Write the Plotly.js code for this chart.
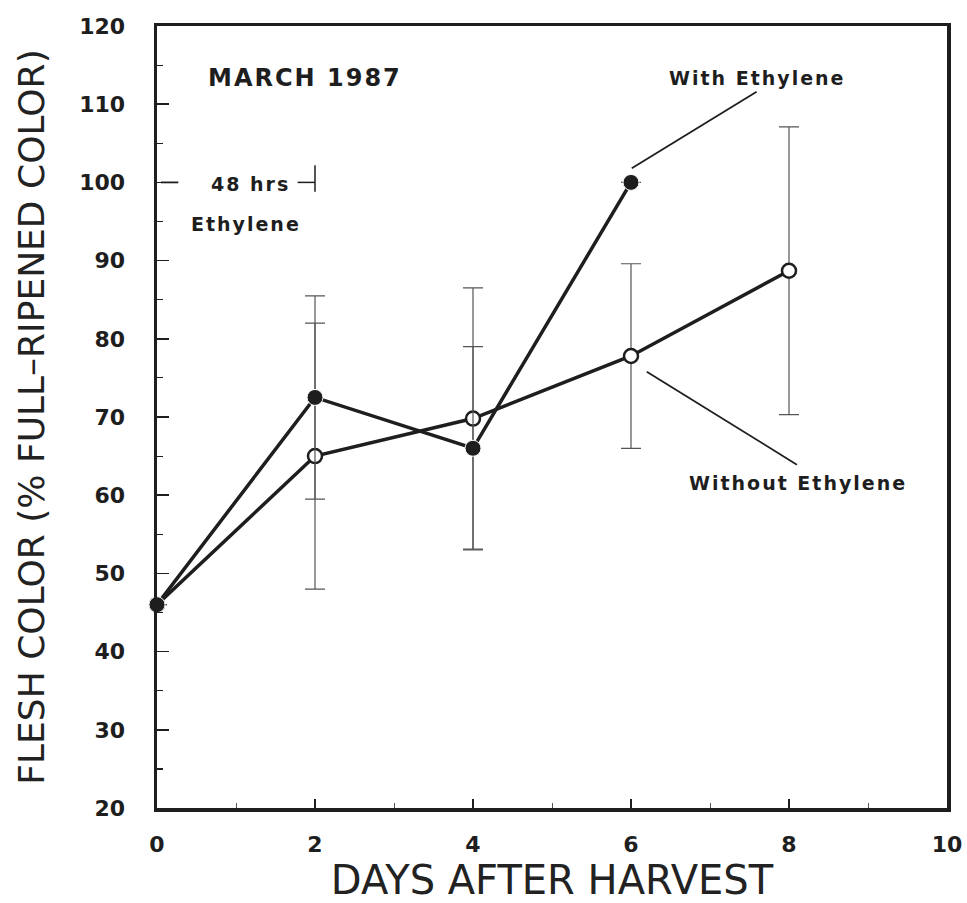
<!DOCTYPE html>
<html>
<head>
<meta charset="utf-8">
<script src="https://cdn.plot.ly/plotly-3.0.1.min.js"></script>
<style>html,body{margin:0;padding:0;background:#fff;}#chart{width:967px;height:903px;}</style>
</head>
<body>
<div id="chart"></div>
<script>
// Days after harvest
const daysWith = [0, 2, 4, 6];
const colorWith = [46, 72.5, 66, 100];
const errWith = [0, 13, 13, 0];

const daysWithout = [0, 2, 4, 6, 8];
const colorWithout = [46, 65, 69.8, 77.8, 88.7];
const errWithout = [0, 17, 16.7, 11.8, 18.4];

const xTickVals = [0, 2, 4, 6, 8, 10];
const yTickVals = [20, 30, 40, 50, 60, 70, 80, 90, 100, 110, 120];

const ink = '#1e1e1e';
const errColor = '#555';

const traces = [
  {
    x: daysWithout, y: colorWithout, type: 'scatter', mode: 'lines+markers',
    name: 'Without Ethylene', cliponaxis: false,
    line: {color: ink, width: 3.5},
    marker: {symbol: 'circle', size: 14, color: '#fff', line: {color: ink, width: 2.5}},
    error_y: {type: 'data', array: errWithout, visible: true, color: errColor, thickness: 1.2, width: 10}
  },
  {
    x: daysWith, y: colorWith, type: 'scatter', mode: 'lines+markers',
    name: 'With Ethylene', cliponaxis: false,
    line: {color: ink, width: 3.5},
    marker: {symbol: 'circle', size: 16, color: ink, line: {color: '#fff', width: 1}},
    error_y: {type: 'data', array: errWith, visible: true, color: errColor, thickness: 1.2, width: 10}
  }
];

const annFont = {family: 'DejaVu Sans', size: 19, color: ink, weight: 'bold'};
const sp = t => '<span style="letter-spacing:2px">' + t + '</span>';

const layout = {
  width: 967, height: 903,
  margin: {l: 157, r: 20, t: 26, b: 95},
  paper_bgcolor: '#fff', plot_bgcolor: '#fff',
  showlegend: false,
  font: {family: 'DejaVu Sans', color: ink},
  xaxis: {
    range: [0, 10], tickvals: xTickVals, ticktext: xTickVals.map(String),
    ticks: 'inside', ticklen: 9, tickwidth: 1.5, tickcolor: ink,
    minor: {dtick: 1, ticks: 'inside', ticklen: 5, tickwidth: 1, tickcolor: '#555'},
    showline: true, linecolor: ink, linewidth: 3.5, mirror: true,
    showgrid: false, zeroline: false,
    tickfont: {family: 'DejaVu Sans', size: 22, weight: 'bold', color: ink},
    ticklabelstandoff: 14,
    title: {text: 'DAYS AFTER HARVEST', font: {family: 'DejaVu Sans', size: 40, color: '#222'}, standoff: 8}
  },
  yaxis: {
    range: [20, 120], tickvals: yTickVals, ticktext: yTickVals.map(String),
    ticks: 'inside', ticklen: 12, tickwidth: 1.5, tickcolor: ink,
    minor: {dtick: 5, ticks: 'inside', ticklen: 6, tickwidth: 1.2, tickcolor: ink},
    showline: true, linecolor: ink, linewidth: 3.5, mirror: true,
    showgrid: false, zeroline: false,
    tickfont: {family: 'DejaVu Sans', size: 22, weight: 'bold', color: ink},
    ticklabelstandoff: 24,
    title: {text: 'FLESH COLOR (% FULL\u2013RIPENED COLOR)', font: {family: 'DejaVu Sans', size: 36, color: '#222'}, standoff: 24}
  },
  annotations: [
    {x: 1.87, y: 113.3, xref: 'x', yref: 'y', text: sp('MARCH 1987'), showarrow: false,
     font: {family: 'DejaVu Sans', size: 24, color: ink, weight: 'bold'}},
    {x: 7.59, y: 113.4, xref: 'x', yref: 'y', text: sp('With Ethylene'), showarrow: false, font: annFont},
    {x: 8.11, y: 61.6, xref: 'x', yref: 'y', text: sp('Without Ethylene'), showarrow: false, font: annFont},
    {x: 1.18, y: 99.8, xref: 'x', yref: 'y', text: sp('48 hrs'), showarrow: false, font: annFont},
    {x: 1.13, y: 94.7, xref: 'x', yref: 'y', text: sp('Ethylene'), showarrow: false, font: annFont}
  ],
  shapes: [
    {type: 'line', xref: 'x', yref: 'y', x0: 6.01, y0: 101.8, x1: 7.59, y1: 111.6, line: {color: ink, width: 1.8}},
    {type: 'line', xref: 'x', yref: 'y', x0: 6.2, y0: 75.8, x1: 8.1, y1: 63.9, line: {color: ink, width: 1.8}},
    {type: 'line', xref: 'x', yref: 'y', x0: 0.05, y0: 100, x1: 0.27, y1: 100, line: {color: ink, width: 1.8}},
    {type: 'line', xref: 'x', yref: 'y', x0: 1.78, y0: 100, x1: 2.0, y1: 100, line: {color: ink, width: 1.5}},
    {type: 'line', xref: 'x', yref: 'y', x0: 2.0, y0: 98.8, x1: 2.0, y1: 102.2, line: {color: ink, width: 1.5}}
  ]
};

Plotly.newPlot('chart', traces, layout, {displayModeBar: false, staticPlot: true});
</script>
</body>
</html>
